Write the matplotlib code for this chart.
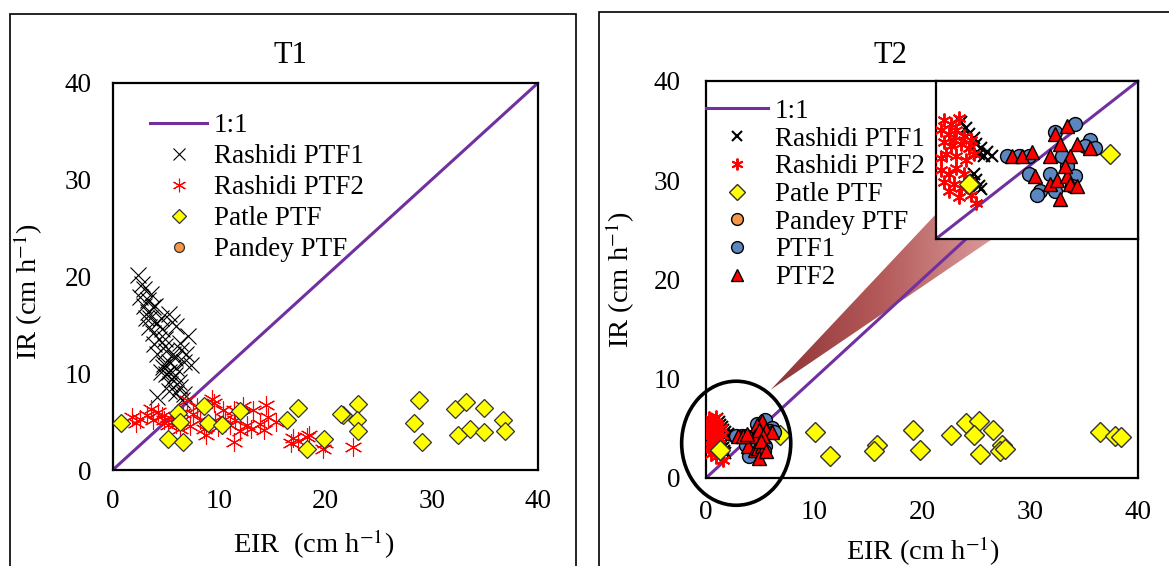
"""Measured vs. estimated infiltration rate (T1, T2) scatter panels."""

import matplotlib
import matplotlib.pyplot as plt
import numpy as np
from matplotlib.colors import LinearSegmentedColormap
from matplotlib.patches import Ellipse, Polygon, Rectangle

matplotlib.use("Agg")

plt.rcParams["font.family"] = ["Liberation Serif", "DejaVu Serif"]
plt.rcParams["mathtext.fontset"] = "stix"

ticks = [0, 10, 20, 30, 40]
one_to_one = [0, 40]

# ---- T1 data (EIR, IR) ----
t1_rashidi1_x = [2.4, 2.9, 3.3, 2.6, 3.8, 3.1, 4.5, 5.3, 3.8, 6.0, 4.9, 6.3, 7.1, 4.2, 5.3,
                 6.0, 6.7, 7.4, 4.5, 5.6, 6.3, 6.7, 4.2, 5.3, 4.9, 3.5, 5.7, 4.4, 5.4,
                 2.8, 3.6, 2.9, 4.0, 3.4, 4.6, 5.6, 3.9, 5.0, 6.4, 4.8, 5.9, 6.9, 5.0,
                 5.9, 6.2, 5.3, 6.0, 6.5, 4.7, 3.3, 4.2]
t1_rashidi1_y = [20.2, 18.7, 17.6, 17.9, 16.8, 15.7, 15.7, 16.1, 14.2, 14.9, 13.5, 13.1, 13.8, 12.0, 11.2,
                 10.5, 11.2, 10.9, 10.1, 9.4, 8.6, 7.9, 7.5, 10.1, 12.8, 15.7, 12.0, 13.5, 8.9,
                 19.2, 18.2, 16.9, 17.0, 14.8, 14.6, 15.3, 13.0, 12.3, 12.4, 11.0, 11.6, 12.0, 9.9,
                 9.8, 9.1, 8.2, 8.0, 7.2, 10.6, 16.3, 15.2]
t1_rashidi2_x = [1.8, 3.2, 4.3, 3.8, 4.8, 5.2, 7.0, 7.3, 8.2, 9.5, 9.6, 8.8, 11.4, 11.5, 11.4, 12.0,
                 13.2, 12.6, 13.9, 14.6, 14.2, 15.4, 17.0, 16.8, 18.3, 19.8, 22.6, 6.0, 6.6, 2.6, 7.9, 10.6,
                 2.2, 3.6, 4.6, 5.6, 6.3, 7.6, 8.6, 9.9, 10.4, 11.0, 12.3, 13.0, 9.3, 14.4, 18.5, 17.4, 20.0]
t1_rashidi2_y = [5.5, 5.7, 6.0, 5.2, 5.2, 4.6, 7.2, 4.5, 5.2, 6.9, 5.2, 3.6, 6.2, 5.2, 2.9, 4.0,
                 6.2, 4.6, 4.8, 5.5, 4.1, 5.0, 3.3, 2.8, 3.4, 2.2, 2.4, 4.8, 5.9, 5.3, 6.5, 5.3,
                 4.9, 6.3, 5.6, 5.3, 4.2, 5.8, 4.2, 4.4, 6.2, 4.6, 6.6, 4.2, 7.3, 6.7, 3.6, 3.0, 2.8]
t1_patle_x = [0.8, 6.1, 6.3, 5.2, 6.6, 8.6, 9.0, 10.3, 12.0, 16.4, 17.4, 18.3, 19.9, 21.7, 21.5,
              23.1, 23.0, 23.1, 28.8, 28.3, 29.1, 32.2, 33.2, 34.9, 32.5, 33.6, 34.9, 36.7, 36.9]
t1_patle_y = [4.9, 5.9, 5.0, 3.2, 2.9, 6.6, 4.9, 4.7, 6.1, 5.2, 6.4, 2.2, 3.2, 5.7, 5.8,
              6.8, 5.2, 4.0, 7.2, 4.9, 2.9, 6.3, 7.0, 6.4, 3.6, 4.2, 3.9, 5.2, 4.0]
t1_pandey_x = []  # no points inside the plotted range
t1_pandey_y = []

# ---- T2 data (EIR, IR) ----
t2_rashidi1_x = [1.0, 1.2, 1.3, 1.5, 1.6, 1.8, 2.0, 2.2, 1.4, 1.7, 1.9, 1.5, 1.6, 1.7, 1.8, 1.4]
t2_rashidi1_y = [5.9, 5.6, 5.3, 5.1, 4.8, 4.6, 4.4, 4.2, 4.7, 4.3, 4.2, 3.3, 3.0, 2.7, 2.5, 2.9]
t2_rashidi2_x = [0.3, 0.6, 0.9, 0.2, 0.5, 0.8, 1.1, 0.3, 0.6, 1.0, 1.3, 0.4, 0.8, 1.2, 1.5, 0.2,
                 0.7, 1.4, 0.2, 0.5, 0.8, 1.1, 0.3, 0.7, 1.0, 1.3, 0.5, 1.4, 1.6, 0.9]
t2_rashidi2_y = [6.0, 5.8, 6.1, 5.5, 5.3, 5.5, 5.2, 4.9, 4.7, 4.8, 4.6, 4.3, 4.2, 4.0, 4.3, 4.1,
                 5.0, 5.0, 3.5, 3.3, 3.6, 3.3, 2.9, 2.8, 2.6, 2.9, 2.4, 2.2, 1.8, 2.1]
t2_patle_x = [1.3, 6.9, 10.1, 11.5, 15.8, 15.6, 19.2, 19.8, 22.7, 24.1, 25.3, 24.8, 26.6, 25.4,
              27.4, 27.2, 27.7, 36.5, 37.9, 38.4]
t2_patle_y = [2.8, 4.3, 4.6, 2.2, 3.3, 2.7, 4.8, 2.8, 4.3, 5.5, 5.7, 4.3, 4.8, 2.4,
              3.3, 2.7, 2.9, 4.6, 4.2, 4.1]
t2_pandey_x = []
t2_pandey_y = []
t2_ptf1_x = [4.7, 5.5, 6.1, 5.9, 3.7, 4.5, 4.1, 4.7, 5.2, 5.5, 5.4, 5.0, 6.3, 4.0, 3.3, 2.8, 3.7]
t2_ptf1_y = [5.4, 5.8, 5.0, 4.7, 3.3, 3.3, 2.4, 2.4, 3.7, 3.2, 2.7, 4.2, 4.6, 2.2, 4.2, 4.2, 4.2]
t2_ptf2_x = [5.2, 4.7, 5.6, 6.1, 4.5, 4.9, 5.3, 3.9, 4.5, 4.8, 5.2, 5.3, 5.1, 4.9, 5.6, 3.0, 3.4, 3.8]
t2_ptf2_y = [5.7, 5.3, 4.8, 4.6, 4.2, 4.8, 4.2, 3.2, 2.8, 3.0, 3.2, 2.8, 3.7, 2.0, 2.7, 4.2, 4.2, 4.4]

PURPLE = "#7030A0"
YELLOW = "#FFFF00"
ORANGE = "#F79646"
BLUE = "#5B86C0"
TICK_FS = 19.5
LEG_FS = 19.5
LABEL_FS = 20.5
ASTERISK = (6, 2, 0)


def style_axes(axis, xpad, ypad):
    axis.set_xlim(0, 40)
    axis.set_ylim(0, 40)
    axis.set_xticks(ticks)
    axis.set_yticks(ticks)
    axis.tick_params(length=0, labelsize=TICK_FS)
    axis.tick_params(axis="x", pad=xpad)
    axis.tick_params(axis="y", pad=ypad)
    for spine in axis.spines.values():
        spine.set_linewidth(1.6)


fig = plt.figure(figsize=(11.69, 5.66), dpi=100)

# panel frames
fig.patches.append(Rectangle((0.0082, -0.05), 0.4845, 1.026, transform=fig.transFigure,
                             fill=False, lw=1.2, ec="black"))
fig.patches.append(Rectangle((0.5124, -0.05), 0.6, 1.029, transform=fig.transFigure,
                             fill=False, lw=1.2, ec="black"))

# ---------------- T1 ----------------
ax1 = fig.add_axes([0.0964, 0.1696, 0.3638, 0.6838])
style_axes(ax1, 14, 15)
ax1.plot(one_to_one, one_to_one, color=PURPLE, lw=2.2, label="1:1", zorder=2)
ax1.plot(t1_rashidi1_x, t1_rashidi1_y, ls="none", marker="x", ms=11.5, mew=0.8, color="black",
         label="Rashidi PTF1", zorder=3)
ax1.plot(t1_rashidi2_x, t1_rashidi2_y, ls="none", marker=ASTERISK, ms=13, mew=0.8, color="red",
         label="Rashidi PTF2", zorder=4)
ax1.plot(t1_patle_x, t1_patle_y, ls="none", marker="D", ms=9.5, mew=0.9, mfc=YELLOW, mec="#333333",
         label="Patle PTF", zorder=5)
ax1.plot(t1_pandey_x, t1_pandey_y, ls="none", marker="o", ms=9.5, mew=0.9, mfc=ORANGE, mec="#333333",
         label="Pandey PTF", zorder=5)
ax1.legend(loc="upper left", bbox_to_anchor=(0.088, 0.922), frameon=False, fontsize=LEG_FS,
           borderaxespad=0, borderpad=0, handlelength=2.1, handletextpad=0.25, labelspacing=0.22,
           markerscale=0.75)
ax1.text(0.419, 1.07, "T1", transform=ax1.transAxes, ha="center", va="center", fontsize=22)
ax1.set_xlabel("EIR  (cm h$^{-1}$)", fontsize=LABEL_FS)
ax1.set_ylabel("IR (cm h$^{-1}$)", fontsize=LABEL_FS)
ax1.xaxis.set_label_coords(0.473, -0.15)
ax1.yaxis.set_label_coords(-0.16, 0.46)

# ---------------- T2 ----------------
ax2 = fig.add_axes([0.6039, 0.1555, 0.3696, 0.7014])
style_axes(ax2, 16, 18)


def draw_t2(axis, with_labels):
    lab = (lambda s: s) if with_labels else (lambda s: "_" + s)
    axis.plot(one_to_one, one_to_one, color=PURPLE, lw=2.2, label=lab("1:1"), zorder=2)
    axis.plot(t2_rashidi1_x, t2_rashidi1_y, ls="none", marker="x", ms=8, mew=1.5, color="black",
              label=lab("Rashidi PTF1"), zorder=3)
    axis.plot(t2_rashidi2_x, t2_rashidi2_y, ls="none", marker=ASTERISK, ms=10, mew=1.4, color="red",
              label=lab("Rashidi PTF2"), zorder=4)
    axis.plot(t2_patle_x, t2_patle_y, ls="none", marker="D", ms=10, mew=1.0, mfc=YELLOW, mec="#333333",
              label=lab("Patle PTF"), zorder=5)
    axis.plot(t2_pandey_x, t2_pandey_y, ls="none", marker="o", ms=10, mew=1.0, mfc=ORANGE,
              mec="black", label=lab("Pandey PTF"), zorder=5)
    axis.plot(t2_ptf1_x, t2_ptf1_y, ls="none", marker="o", ms=10, mew=1.0, mfc=BLUE, mec="black",
              label=lab("PTF1"), zorder=6)
    axis.plot(t2_ptf2_x, t2_ptf2_y, ls="none", marker="^", ms=10, mew=1.0, mfc="red", mec="black",
              label=lab("PTF2"), zorder=7)


draw_t2(ax2, True)
ax2.legend(loc="upper left", bbox_to_anchor=(0.0, 0.955), frameon=False, fontsize=LEG_FS,
           borderaxespad=0, borderpad=0, handlelength=2.3, handletextpad=0.25, labelspacing=0.1,
           markerscale=0.85)
ax2.text(0.428, 1.063, "T2", transform=ax2.transAxes, ha="center", va="center", fontsize=22)
ax2.set_xlabel("EIR (cm h$^{-1}$)", fontsize=LABEL_FS)
ax2.set_ylabel("IR (cm h$^{-1}$)", fontsize=LABEL_FS)
ax2.xaxis.set_label_coords(0.502, -0.142)
ax2.yaxis.set_label_coords(-0.16, 0.5)

# zoom callout: ellipse, gradient wedge, inset
ax2.add_patch(Ellipse((2.8, 3.5), 10.1, 12.5, fill=False, lw=2.6, ec="black",
                      clip_on=False, zorder=9))
wedge = Polygon([(6.0, 8.9), (21.3, 26.6), (26.4, 24.0)], closed=True, fc="none", ec="none")
ax2.add_patch(wedge)
grad_cmap = LinearSegmentedColormap.from_list("callout", ["#8E3434", "#B45A5A", "#DA9A9A"])
grad = np.tile(np.linspace(0, 1, 256), (2, 1))
img = ax2.imshow(grad, cmap=grad_cmap, extent=(6.0, 26.4, 8.9, 26.6), origin="lower",
                 aspect="auto", zorder=1)
img.set_clip_path(wedge)
ax2.set_xlim(0, 40)
ax2.set_ylim(0, 40)

inset = ax2.inset_axes([21.3, 24.1, 18.7, 15.9], transform=ax2.transData, zorder=10)
draw_t2(inset, False)
inset.set_xlim(0, 8)
inset.set_ylim(0, 8)
inset.set_xticks([])
inset.set_yticks([])
for spine in inset.spines.values():
    spine.set_linewidth(1.6)

fig.savefig("out.png", dpi=100)
plt.close(fig)
